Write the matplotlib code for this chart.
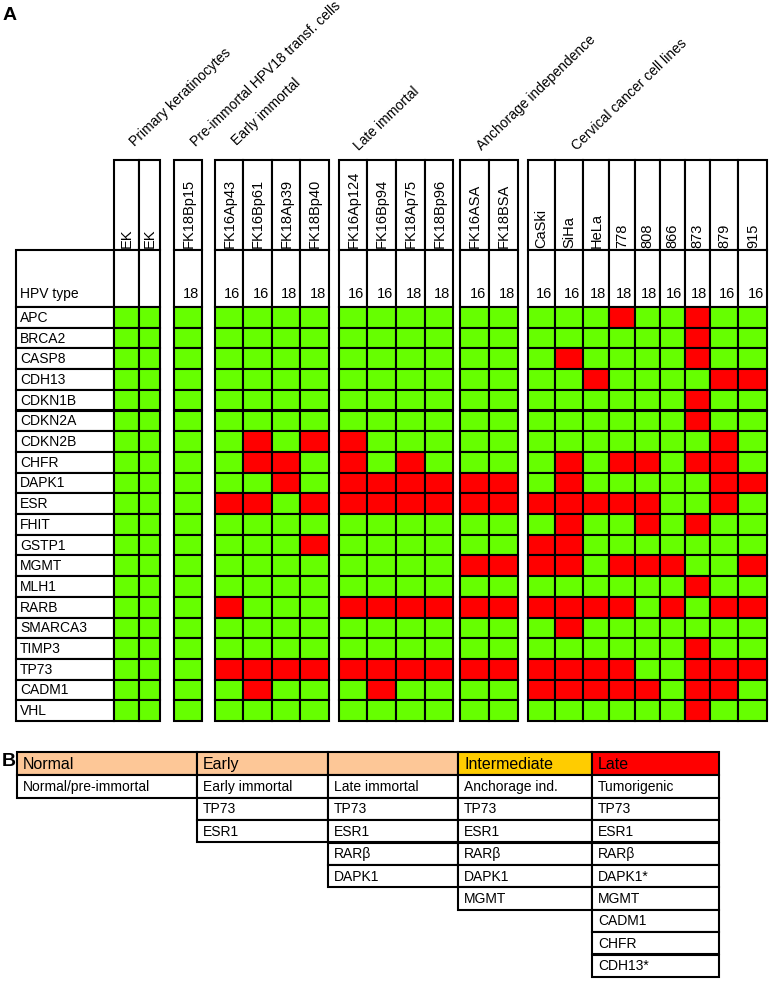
import matplotlib.pyplot as plt
from matplotlib.patches import Rectangle

plt.rcParams['font.family'] = ['Liberation Sans', 'DejaVu Sans']

# --- Panel A data ---
groups = ['Primary keratinocytes', 'Pre-immortal HPV18 transf. cells', 'Early immortal',
          'Late immortal', 'Anchorage independence', 'Cervical cancer cell lines']
group_samples = [
    ['EK', 'EK'],
    ['FK18Bp15'],
    ['FK16Ap43', 'FK16Bp61', 'FK18Ap39', 'FK18Bp40'],
    ['FK16Ap124', 'FK16Bp94', 'FK18Ap75', 'FK18Bp96'],
    ['FK16ASA', 'FK18BSA'],
    ['CaSki', 'SiHa', 'HeLa', '778', '808', '866', '873', '879', '915'],
]
hpv_type = ['', '', '18', '16', '16', '18', '18', '16', '16', '18', '18',
            '16', '18', '16', '16', '18', '18', '18', '16', '18', '16', '16']
genes = ['APC', 'BRCA2', 'CASP8', 'CDH13', 'CDKN1B', 'CDKN2A', 'CDKN2B', 'CHFR', 'DAPK1',
         'ESR', 'FHIT', 'GSTP1', 'MGMT', 'MLH1', 'RARB', 'SMARCA3', 'TIMP3', 'TP73',
         'CADM1', 'VHL']
# 1 = methylated (red), 0 = unmethylated (green); columns follow group_samples order
methylation = [
    '000' '0000' '0000' '00' '000100100',  # APC
    '000' '0000' '0000' '00' '000000100',  # BRCA2
    '000' '0000' '0000' '00' '010000100',  # CASP8
    '000' '0000' '0000' '00' '001000011',  # CDH13
    '000' '0000' '0000' '00' '000000100',  # CDKN1B
    '000' '0000' '0000' '00' '000000100',  # CDKN2A
    '000' '0101' '1000' '00' '000000010',  # CDKN2B
    '000' '0110' '1010' '00' '010110110',  # CHFR
    '000' '0010' '1111' '11' '010000011',  # DAPK1
    '000' '1101' '1111' '11' '111110010',  # ESR
    '000' '0000' '0000' '00' '010010100',  # FHIT
    '000' '0001' '0000' '00' '110000000',  # GSTP1
    '000' '0000' '0000' '11' '110111001',  # MGMT
    '000' '0000' '0000' '00' '000000100',  # MLH1
    '000' '1000' '1111' '11' '111101011',  # RARB
    '000' '0000' '0000' '00' '010000000',  # SMARCA3
    '000' '0000' '0000' '00' '000000100',  # TIMP3
    '000' '1111' '1111' '11' '111100111',  # TP73
    '000' '0100' '0100' '00' '111110110',  # CADM1
    '000' '0000' '0000' '00' '000000100',  # VHL
]

# --- Panel B data ---
stage_headers = ['Normal', 'Early', '', 'Intermediate', 'Late']
stage_names = ['Normal/pre-immortal', 'Early immortal', 'Late immortal', 'Anchorage ind.', 'Tumorigenic']
stage_genes = [
    [],
    ['TP73', 'ESR1'],
    ['TP73', 'ESR1', 'RARβ', 'DAPK1'],
    ['TP73', 'ESR1', 'RARβ', 'DAPK1', 'MGMT'],
    ['TP73', 'ESR1', 'RARβ', 'DAPK1*', 'MGMT', 'CADM1', 'CHFR', 'CDH13*'],
]

GREEN = '#66ff00'
RED = '#ff0000'
LW = 1.5

fig = plt.figure(figsize=(7.7, 9.81), dpi=100)
ax = fig.add_axes([0, 0, 1, 1])
ax.set_xlim(0, 770)
ax.set_ylim(981, 0)
ax.axis('off')

# layout (pixel coords)
group_edges = [
    [114, 139, 160],
    [174, 202],
    [215, 243, 272, 300, 329],
    [339, 367, 395.5, 424.5, 453],
    [460, 489, 518],
    [528, 554.5, 583, 608.5, 634.5, 659.5, 684.5, 710, 738, 767],
]
label_anchor = [(135, 147), (196, 147), (237, 146), (359, 151), (482, 151), (577, 151)]
head_top, head_bot, hpv_bot = 160, 250, 307
row_h = (721 - hpv_bot) / len(genes)


def box(x0, y0, x1, y1, fc='white'):
    ax.add_patch(Rectangle((x0, y0), x1 - x0, y1 - y0, facecolor=fc,
                           edgecolor='black', linewidth=LW))


ax.text(3, 20, 'A', fontsize=14, fontweight='bold', va='baseline')

# row label column
box(16, head_bot, 114, hpv_bot)
ax.text(20, 298, 'HPV type', fontsize=10, va='baseline')
for i, g in enumerate(genes):
    y0 = hpv_bot + i * row_h
    box(16, y0, 114, y0 + row_h)
    ax.text(20, y0 + row_h / 2 + 0.5, g, fontsize=10, va='center')

col = 0
for gi, (name, samples) in enumerate(zip(groups, group_samples)):
    edges = group_edges[gi]
    ax.text(*label_anchor[gi], name, fontsize=10, rotation=44,
            rotation_mode='anchor', ha='left', va='baseline')
    for k, s in enumerate(samples):
        x0, x1 = edges[k], edges[k + 1]
        box(x0, head_top, x1, head_bot)
        box(x0, head_bot, x1, hpv_bot)
        ax.text((x0 + x1) / 2 + 0.5, head_bot - 2.5, s, fontsize=10.5, rotation=90,
                ha='center', va='bottom')
        ax.text(x1 - 2.5, 298, hpv_type[col], fontsize=10.5, ha='right', va='baseline')
        for i in range(len(genes)):
            y0 = hpv_bot + i * row_h
            fc = RED if methylation[i][col] == '1' else GREEN
            box(x0, y0, x1, y0 + row_h, fc)
        col += 1

# --- Panel B ---
ax.text(2, 766, 'B', fontsize=14, fontweight='bold', va='baseline')
tcols = [17, 197, 328, 458, 592, 719]
head_colors = ['#fdc797', '#fdc797', '#fdc797', '#ffcc00', '#ff0000']
ty0, th0, trh = 752, 23.3, 22.4
for j in range(5):
    x0, x1 = tcols[j], tcols[j + 1]
    box(x0, ty0, x1, ty0 + th0, head_colors[j])
    ax.text(x0 + 6, ty0 + th0 / 2 + 1, stage_headers[j], fontsize=11.5, va='center')
    cells = [stage_names[j]] + stage_genes[j]
    for r, c in enumerate(cells):
        y0 = ty0 + th0 + r * trh
        box(x0, y0, x1, y0 + trh)
        ax.text(x0 + 6, y0 + trh / 2 + 0.5, c, fontsize=10, va='center')

fig.savefig('out.png', dpi=100)
